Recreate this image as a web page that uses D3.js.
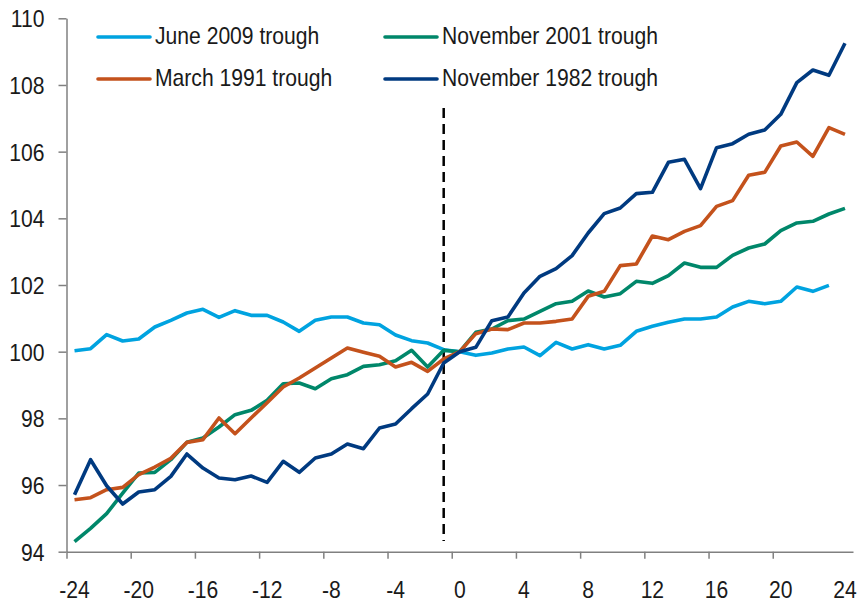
<!DOCTYPE html>
<html>
<head>
<meta charset="utf-8">
<style>
    body { margin: 0; background: #fff; }
    svg { display: block; }
    text {
        font-family: 'Liberation Sans', Arial, sans-serif;
        font-size: 24px;
        fill: #1a1a1a;
    }
    .axis .domain, .axis .tick line { stroke: #808080; stroke-width: 1.5; }
</style>
</head>
<body>
<svg width="859" height="603"></svg>

<script src="https://d3js.org/d3.v7.min.js"></script>
<script>
    // months from the trough
    let months = [-24, -23, -22, -21, -20, -19, -18, -17, -16, -15, -14, -13, -12, -11, -10, -9, -8, -7, -6, -5, -4, -3, -2, -1,
        0, 1, 2, 3, 4, 5, 6, 7, 8, 9, 10, 11, 12, 13, 14, 15, 16, 17, 18, 19, 20, 21, 22, 23, 24]

    let june2009 = [100.03, 100.09, 100.51, 100.32, 100.38, 100.74, 100.94, 101.16, 101.27, 101.03, 101.23, 101.09,
        101.09, 100.89, 100.61, 100.94, 101.04, 101.04, 100.86, 100.81, 100.50, 100.33, 100.26, 100.06,
        100.00, 99.89, 99.96, 100.08, 100.14, 99.88, 100.28, 100.08, 100.21, 100.08, 100.19, 100.61,
        100.76, 100.88, 100.98, 100.98, 101.04, 101.34, 101.51, 101.44, 101.51, 101.94, 101.81, 101.99, null]

    let nov2001 = [94.30, 94.70, 95.14, 95.76, 96.36, 96.38, 96.76, 97.28, 97.41, 97.74, 98.11, 98.24,
        98.54, 99.04, 99.06, 98.89, 99.19, 99.31, 99.56, 99.61, 99.73, 100.04, 99.54, 100.04,
        100.00, 100.58, 100.68, 100.93, 100.98, 101.21, 101.44, 101.51, 101.82, 101.64, 101.74, 102.11,
        102.05, 102.28, 102.66, 102.53, 102.53, 102.89, 103.11, 103.23, 103.63, 103.86, 103.91, 104.13, 104.30]

    let mar1991 = [95.56, 95.62, 95.86, 95.93, 96.31, 96.54, 96.80, 97.28, 97.36, 98.01, 97.54, 98.01,
        98.47, 98.94, 99.21, 99.51, 99.81, 100.11, 99.98, 99.86, 99.54, 99.68, 99.41, 99.78,
        100.00, 100.54, 100.68, 100.66, 100.86, 100.86, 100.91, 100.98, 101.66, 101.81, 102.58, 102.63,
        103.47, 103.36, 103.61, 103.78, 104.36, 104.53, 105.29, 105.38, 106.17, 106.29, 105.86, 106.72, 106.52]

    let nov1982 = [95.71, 96.76, 95.98, 95.43, 95.79, 95.86, 96.26, 96.93, 96.51, 96.21, 96.16, 96.27,
        96.08, 96.71, 96.38, 96.81, 96.93, 97.23, 97.09, 97.71, 97.83, 98.29, 98.73, 99.66,
        100.00, 100.13, 100.93, 101.04, 101.76, 102.26, 102.49, 102.88, 103.56, 104.14, 104.31, 104.74,
        104.78, 105.68, 105.77, 104.89, 106.12, 106.24, 106.52, 106.65, 107.12, 108.07, 108.45, 108.29, 109.25]

    let seriesNames = ["June 2009 trough", "November 2001 trough", "March 1991 trough", "November 1982 trough"]
    let seriesColors = ["#00a3e0", "#00876a", "#c4521c", "#003a80"]
    let seriesValues = [june2009, nov2001, mar1991, nov1982]

    let xLabels = [-24, -20, -16, -12, -8, -4, 0, 4, 8, 12, 16, 20, 24]
    let yTicks = [94, 96, 98, 100, 102, 104, 106, 108, 110]
    let troughLine = -1

    let svg = d3.select("svg")
    let narrow = 0.88 // squeeze the type to look like Arial Narrow

    // category axis: ticks sit between months, labels on the months
    let x = d3.scaleLinear().domain([-24.5, 24.5]).range([66.5, 853])
    let y = d3.scaleLinear().domain([94, 110]).range([551.7, 18.3])

    svg.append("g")
        .attr("class", "axis")
        .attr("transform", "translate(66.5,0)")
        .call(d3.axisLeft(y).tickValues(yTicks).tickSize(8).tickPadding(14).tickSizeOuter(0))
        .selectAll("text")
        .attr("x", 0)
        .attr("dy", "0.36em")
        .attr("transform", `translate(-22,0) scale(${narrow},1)`)

    svg.append("g")
        .attr("class", "axis")
        .attr("transform", "translate(0,551.7)")
        .call(d3.axisBottom(x).tickValues(xLabels.slice(0, -1).map(d => d - 0.5)).tickSize(7).tickFormat("").tickSizeOuter(0))

    svg.append("g")
        .selectAll("text")
        .data(xLabels)
        .join("text")
        .attr("transform", d => `translate(${x(d)},598) scale(${narrow},1)`)
        .attr("text-anchor", "middle")
        .text(d => d)

    // dashed trough marker
    svg.append("line")
        .attr("x1", x(troughLine)).attr("x2", x(troughLine))
        .attr("y1", 108).attr("y2", 541)
        .attr("stroke", "#000")
        .attr("stroke-width", 2.5)
        .attr("stroke-dasharray", "10,6")

    let line = d3.line()
        .defined(d => d[1] != null)
        .x(d => x(d[0]))
        .y(d => y(d[1]))

    svg.append("g")
        .selectAll("path")
        .data(seriesValues)
        .join("path")
        .attr("d", vals => line(months.map((m, i) => [m, vals[i]])))
        .attr("fill", "none")
        .attr("stroke", (d, i) => seriesColors[i])
        .attr("stroke-width", 3.6)
        .attr("stroke-linejoin", "round")

    // legend, two columns
    let legendPos = [[98, 37], [385, 37], [98, 79], [385, 79]]
    let legend = svg.append("g")
        .selectAll("g")
        .data(seriesNames)
        .join("g")
        .attr("transform", (d, i) => `translate(${legendPos[i][0]},${legendPos[i][1]})`)

    legend.append("line")
        .attr("x1", 0).attr("x2", 52)
        .attr("stroke", (d, i) => seriesColors[i])
        .attr("stroke-width", 3.6)
        .attr("stroke-linecap", "round")

    legend.append("text")
        .attr("transform", `translate(57,7) scale(${narrow},1)`)
        .text(d => d)
</script>
</body>
</html>
